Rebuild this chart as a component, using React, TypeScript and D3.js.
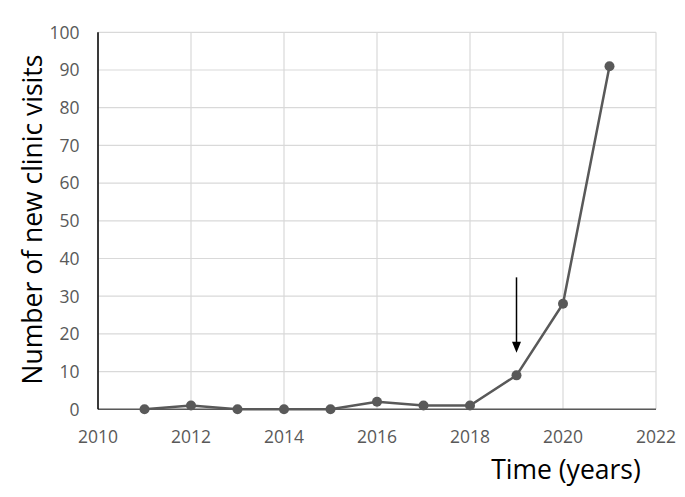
import React from "react";
import * as d3 from "d3";

const years = [2011, 2012, 2013, 2014, 2015, 2016, 2017, 2018, 2019, 2020, 2021];
const visits = [0, 1, 0, 0, 0, 2, 1, 1, 9, 28, 91];
const xTicks = [2010, 2012, 2014, 2016, 2018, 2020, 2022];
const yTicks = [0, 10, 20, 30, 40, 50, 60, 70, 80, 90, 100];
const arrowYear = 2019;
const arrowFrom = 35;
const arrowTo = 15;

const W = 685;
const H = 497;
const left = 98;
const right = 656;
const top = 32.3;
const bottom = 409.3;

export default function App() {
  const x = d3.scaleLinear().domain([2010, 2022]).range([left, right]);
  const y = d3.scaleLinear().domain([0, 100]).range([bottom, top]);
  const line = d3
    .line<number>()
    .x((_, i) => x(years[i]))
    .y((d) => y(d));
  const font = "'Open Sans', Lato, sans-serif";
  const ax = x(arrowYear);
  const ay0 = y(arrowFrom);
  const ay1 = y(arrowTo);
  return (
    <svg
      width={W}
      height={H}
      style={{ position: "absolute", left: 0, top: 0, background: "#fff" }}
    >
      <rect width={W} height={H} fill="#fff" />
      {yTicks.map((t) => (
        <line
          key={"gy" + t}
          x1={left}
          x2={right}
          y1={y(t)}
          y2={y(t)}
          stroke="#d9d9d9"
          strokeWidth={1.2}
        />
      ))}
      {xTicks.map((t) => (
        <line
          key={"gx" + t}
          x1={x(t)}
          x2={x(t)}
          y1={top}
          y2={bottom}
          stroke="#d9d9d9"
          strokeWidth={1.2}
        />
      ))}
      <line x1={left} x2={right} y1={bottom} y2={bottom} stroke="#595959" strokeWidth={1.5} />
      <line x1={left} x2={left} y1={top} y2={bottom} stroke="#000" strokeWidth={1.5} />
      {yTicks.map((t) => (
        <text
          key={"ty" + t}
          x={79.5}
          y={y(t)}
          dy="0.36em"
          textAnchor="end"
          fontFamily={font}
          fontSize={17.5}
          fill="#595959"
        >
          {t}
        </text>
      ))}
      {xTicks.map((t) => (
        <text
          key={"tx" + t}
          x={x(t)}
          y={442.5}
          textAnchor="middle"
          fontFamily={font}
          fontSize={17.5}
          fill="#595959"
        >
          {t}
        </text>
      ))}
      <path d={line(visits) || ""} fill="none" stroke="#595959" strokeWidth={2.5} />
      {visits.map((v, i) => (
        <circle key={"p" + i} cx={x(years[i])} cy={y(v)} r={5} fill="#595959" />
      ))}
      <line x1={ax} x2={ax} y1={ay0} y2={ay1 - 9} stroke="#000" strokeWidth={1.5} />
      <path
        d={`M${ax - 4.5},${ay1 - 11} L${ax + 4.5},${ay1 - 11} L${ax},${ay1} Z`}
        fill="#000"
      />
      <text
        transform={`translate(42,219.5) rotate(-90)`}
        textAnchor="middle"
        fontFamily={font}
        fontSize={26.5}
        fill="#000"
      >
        Number of new clinic visits
      </text>
      <text
        x={566}
        y={479.3}
        textAnchor="middle"
        fontFamily={font}
        fontSize={26.5}
        fill="#000"
      >
        Time (years)
      </text>
    </svg>
  );
}
